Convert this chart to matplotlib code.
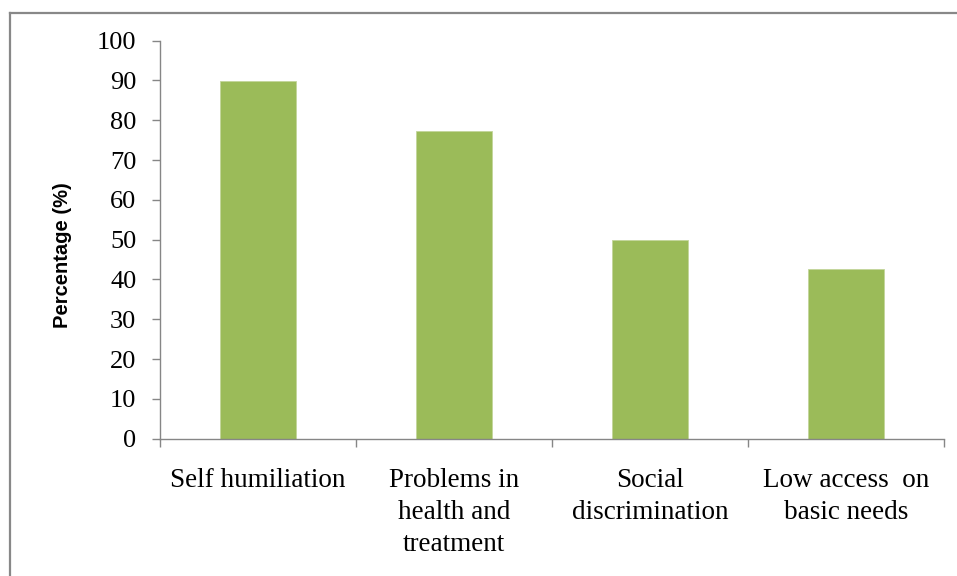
import matplotlib
matplotlib.use('Agg')
from matplotlib import pyplot as plt
from matplotlib.lines import Line2D
import numpy as np

categories = ["Self humiliation", "Problems in\nhealth and\ntreatment",
              "Social\ndiscrimination", "Low access  on\nbasic needs"]
percentages = [89.8, 77.3, 49.8, 42.6]
yticks = [0, 10, 20, 30, 40, 50, 60, 70, 80, 90, 100]

W, H = 957, 576
fig = plt.figure(figsize=(W / 100, H / 100), dpi=100)
ax = fig.add_axes([160 / W, 1 - 438.7 / H, (944 - 160) / W, 398 / H])

x = np.arange(len(categories))
ax.bar(x, percentages, width=0.39, color='#9BBB59', edgecolor='#C3D69B', linewidth=0.6, zorder=2)

ax.set_xlim(-0.5, len(categories) - 0.5)
ax.set_ylim(0, 100)
ax.set_yticks(yticks)
ax.set_yticklabels([str(v) for v in yticks], family='Liberation Serif', fontsize=19)

ax.set_xticks(x)
ax.set_xticklabels(categories, family='Liberation Serif', fontsize=19.5, linespacing=1.36)
ax.set_xticks(np.arange(-0.5, len(categories)), minor=True)
ax.tick_params(axis='x', which='major', length=0, pad=21)
ax.tick_params(axis='x', which='minor', length=6, width=1, color='#868686', direction='out')
ax.tick_params(axis='y', length=6, width=1, color='#868686', direction='out', pad=11)

for side in ['top', 'right']:
    ax.spines[side].set_visible(False)
for side in ['left', 'bottom']:
    ax.spines[side].set_color('#868686')
    ax.spines[side].set_linewidth(1)

ax.set_ylabel("Percentage (%)", family='Liberation Sans', fontweight='bold', fontsize=14.5)
ax.yaxis.set_label_coords((72 - 160) / (944 - 160), 0.46)

# grey frame on left and top (picture is cropped on the other sides)
fig.add_artist(Line2D([10 / W, 10 / W], [0, 1 - 13 / H], transform=fig.transFigure,
                      color='#888888', linewidth=1.6))
fig.add_artist(Line2D([10 / W, 1], [1 - 13 / H, 1 - 13 / H], transform=fig.transFigure,
                      color='#888888', linewidth=1.6))

fig.savefig('out.png', dpi=100)
